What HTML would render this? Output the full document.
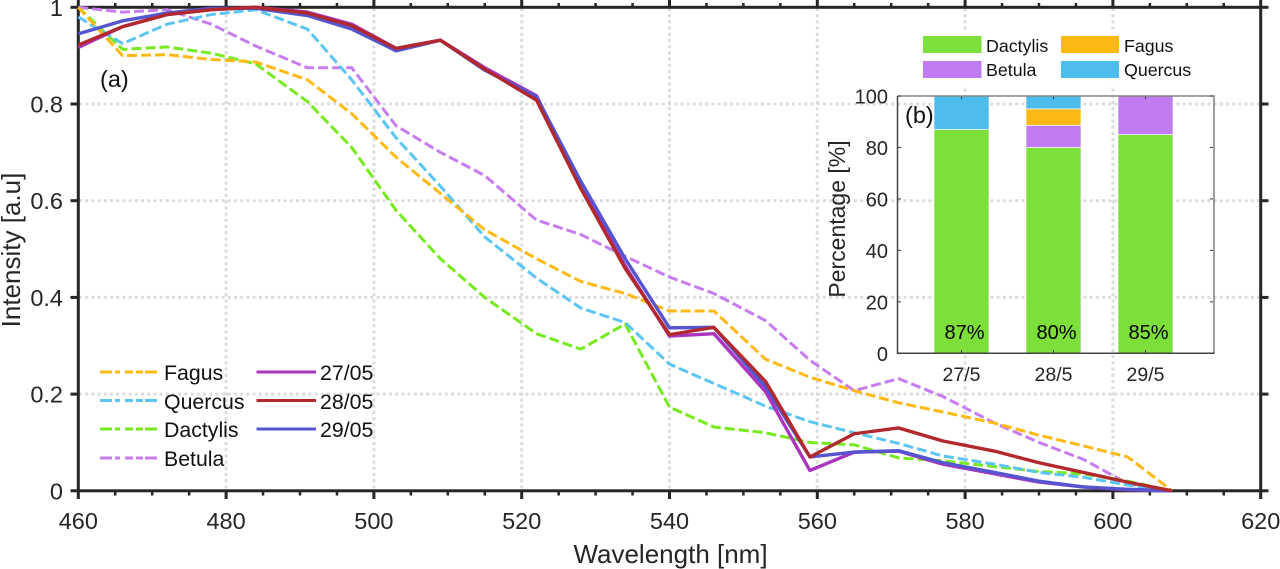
<!DOCTYPE html>
<html lang="en">
<head>
<meta charset="utf-8">
<title>Intensity by wavelength</title>
<style>
html,body{margin:0;padding:0;background:#fff;width:1280px;height:569px;overflow:hidden}
svg{display:block;font-family:"Liberation Sans",Arial,sans-serif}
</style>
</head>
<body>
<svg id="chart" xmlns="http://www.w3.org/2000/svg" width="1280" height="569" viewBox="0 0 1280 569">
  <g id="grid"></g>
  <g id="axes"></g>
  <g id="series"></g>
  <g id="inset"></g>

  <text x="670.5" y="563" font-size="26" text-anchor="middle" fill="#262626">Wavelength [nm]</text>
  <text transform="translate(20,250) rotate(-90)" font-size="26" text-anchor="middle" fill="#262626">Intensity [a.u]</text>
  <text x="100" y="87" font-size="23.5" fill="#111">(a)</text>
  <text x="905" y="123" font-size="23.5" fill="#111">(b)</text>
  <text transform="translate(845,219) rotate(-90)" font-size="23" text-anchor="middle" fill="#262626">Percentage [%]</text>

  <g font-size="21.3" fill="#111">
    <g>
      <line x1="100" x2="157" y1="372" y2="372" stroke="#ffb914" stroke-width="3" stroke-dasharray="12 3 5 5 8 3 7 2 12 100"/>
      <text x="164" y="380">Fagus</text>
    </g>
    <g>
      <line x1="100" x2="157" y1="400.5" y2="400.5" stroke="#5cc5f2" stroke-width="3" stroke-dasharray="12 3 5 5 8 3 7 2 12 100"/>
      <text x="164" y="409">Quercus</text>
    </g>
    <g>
      <line x1="100" x2="157" y1="429" y2="429" stroke="#76ea1e" stroke-width="3" stroke-dasharray="12 3 5 5 8 3 7 2 12 100"/>
      <text x="164" y="437">Dactylis</text>
    </g>
    <g>
      <line x1="100" x2="157" y1="458" y2="458" stroke="#c77df0" stroke-width="3" stroke-dasharray="12 3 5 5 8 3 7 2 12 100"/>
      <text x="164" y="466">Betula</text>
    </g>
    <g>
      <line x1="256.5" x2="316" y1="372" y2="372" stroke="#aa36c0" stroke-width="3"/>
      <text x="320" y="380">27/05</text>
    </g>
    <g>
      <line x1="256.5" x2="316" y1="400.5" y2="400.5" stroke="#b1282d" stroke-width="3"/>
      <text x="320" y="409">28/05</text>
    </g>
    <g>
      <line x1="256.5" x2="316" y1="429" y2="429" stroke="#5555cf" stroke-width="3"/>
      <text x="320" y="437">29/05</text>
    </g>
  </g>

  <g font-size="17.8" fill="#111">
    <rect x="915" y="31" width="282" height="54" fill="#fff"/>
    <g>
      <rect x="923" y="36" width="58.5" height="17" fill="#7ddf3a"/>
      <text x="986" y="52">Dactylis</text>
    </g>
    <g>
      <rect x="1061" y="36" width="58" height="17" fill="#fdb913"/>
      <text x="1124" y="52">Fagus</text>
    </g>
    <g>
      <rect x="923" y="61" width="58.5" height="17" fill="#c07bf0"/>
      <text x="986" y="76">Betula</text>
    </g>
    <g>
      <rect x="1061" y="61" width="58" height="17" fill="#4dbdee"/>
      <text x="1124" y="76">Quercus</text>
    </g>
  </g>
</svg>

<script>
// ---- Main chart data ----
const wavelengths = [460,466,472,478,484,491,497,503,509,515,522,528,534,540,546,553,559,565,571,577,584,590,596,602,608];
const fagus    = [1,.90,.902,.892,.887,.85,.78,.69,.615,.54,.48,.433,.408,.372,.372,.272,.235,.207,.182,.163,.14,.115,.093,.07,0];
const quercus  = [.98,.925,.965,.985,.995,.955,.85,.73,.63,.525,.44,.378,.348,.262,.222,.175,.143,.12,.098,.072,.055,.038,.028,.012,0];
const dactylis = [1,.913,.918,.905,.883,.805,.71,.58,.48,.40,.325,.293,.345,.173,.132,.12,.10,.095,.068,.062,.05,.04,.035,.02,0];
const betula   = [1,.99,.995,.965,.92,.875,.875,.755,.70,.652,.56,.53,.485,.442,.408,.352,.27,.207,.232,.195,.14,.10,.065,.015,0];
const day2705  = [.917,.96,.985,.995,1,.99,.965,.915,.932,.875,.817,.63,.465,.32,.325,.205,.042,.08,.082,.055,.035,.018,.008,.002,0];
const day2805  = [.922,.96,.985,.995,1,.988,.962,.915,.932,.872,.808,.625,.46,.323,.338,.226,.07,.118,.13,.103,.082,.058,.038,.018,0];
const day2905  = [.945,.972,.988,.998,.998,.983,.955,.91,.932,.87,.815,.64,.48,.337,.338,.215,.07,.08,.083,.058,.038,.02,.008,.003,0];
const xMajorTicks = [460,480,500,520,540,560,580,600,620];
const xMinorTicks = [465,470,475,485,490,495,505,510,515,525,530,535,545,550,555,565,570,575,585,590,595,605,610,615];
const yTicks = [0,0.2,0.4,0.6,0.8,1];

// ---- Inset chart data ----
const barCategories = ['27/5','28/5','29/5'];
const barDactylis = [87,80,85];
const barBetula   = [0,8.6,15];
const barFagus    = [0,6.4,0];
const barQuercus  = [13,5,0];
const barPercentLabels = ['87%','80%','85%'];
const insetYTicks = [0,20,40,60,80,100];

// ---- Axis functions ----
const xScale = function (v) { return 78.3 + (v - 460) * (1260.7 - 78.3) / 160; };
const yScale = function (v) { return 490.8 - v * 483.5; };
const insetX = function (i) { return 961.5 + i * 92; };
const insetY = function (v) { return 353.3 - v * 2.573; };

const NS = 'http://www.w3.org/2000/svg';
function make(tag, parent, attrs, content) {
  const el = document.createElementNS(NS, tag);
  for (const k in attrs) el.setAttribute(k, attrs[k]);
  if (content !== undefined) el.textContent = content;
  parent.appendChild(el);
  return el;
}

const gridG = document.getElementById('grid');
const axesG = document.getElementById('axes');
const seriesG = document.getElementById('series');
const insetG = document.getElementById('inset');
const INK = '#262626';
const GRIDC = '#dcdcdc';

// Grid
xMajorTicks.slice(1, -1).forEach(function (t) {
  const el = make('line', gridG, {x1: xScale(t), x2: xScale(t), y1: 8, y2: 490, stroke: GRIDC, 'stroke-width': 3, 'stroke-dasharray': '3 3.2'});
  
  
});
yTicks.slice(1, -1).forEach(function (t) {
  const el = make('line', gridG, {x1: 79, x2: 1260, y1: yScale(t), y2: yScale(t), stroke: GRIDC, 'stroke-width': 3, 'stroke-dasharray': '3 3.2'});
  
  
});

// Axes box
const box = make('rect', axesG, {x: 78.3, y: 7.3, width: 1182.4, height: 483.5, fill: 'none', stroke: INK, 'stroke-width': 3});



// X ticks and labels
xMajorTicks.forEach(function (t) {
  const x = xScale(t);
  const b = make('line', axesG, {x1: x, x2: x, y1: 491, y2: 499, stroke: INK, 'stroke-width': 3});
  
  
  const u = make('line', axesG, {x1: x, x2: x, y1: 7, y2: 0, stroke: INK, 'stroke-width': 3});
  
  
  const lab = make('text', axesG, {x: x, y: 529, 'font-size': 23.5, 'text-anchor': 'middle', fill: INK}, String(t));
  
  
});
xMinorTicks.forEach(function (t) {
  const x = xScale(t);
  const b = make('line', axesG, {x1: x, x2: x, y1: 491, y2: 495.5, stroke: INK, 'stroke-width': 2.5});
  
  
  const u = make('line', axesG, {x1: x, x2: x, y1: 7, y2: 3, stroke: INK, 'stroke-width': 2.5});
  
  
});

// Y ticks and labels
yTicks.forEach(function (t) {
  const y = yScale(t);
  const l = make('line', axesG, {x1: 70.5, x2: 78, y1: y, y2: y, stroke: INK, 'stroke-width': 3});
  
  
  const r = make('line', axesG, {x1: 1261, x2: 1268.5, y1: y, y2: y, stroke: INK, 'stroke-width': 3});
  
  
  const lab = make('text', axesG, {x: 63, y: y + 8.5, 'font-size': 23.5, 'text-anchor': 'end', fill: INK}, String(t));
  
  
});

// Series
function drawSeries(values, color, width, dash, name) {
  const pts = values.map(function (v, i) { return xScale(wavelengths[i]).toFixed(2) + ',' + yScale(v).toFixed(2); }).join(' ');
  const attrs = {points: pts, fill: 'none', stroke: color, 'stroke-width': width, 'stroke-linejoin': 'round'};
  if (dash) attrs['stroke-dasharray'] = dash;
  const el = make('polyline', seriesG, attrs);
  
  
}
drawSeries(betula, '#c77df0', 3, '10 4', 'series-betula');
drawSeries(dactylis, '#76ea1e', 3, '10 4', 'series-dactylis');
drawSeries(quercus, '#5cc5f2', 3, '10 4', 'series-quercus');
drawSeries(fagus, '#ffb914', 3, '10 4', 'series-fagus');
drawSeries(day2705, '#aa36c0', 3.4, null, 'series-27-05');
drawSeries(day2905, '#5555cf', 3.4, null, 'series-29-05');
drawSeries(day2805, '#b1282d', 3.4, null, 'series-28-05');

// Inset bars
const stackColors = ['#7ddf3a', '#c07bf0', '#fdb913', '#4dbdee'];
const stacks = [barDactylis, barBetula, barFagus, barQuercus];
barCategories.forEach(function (cat, i) {
  let base = 0;
  stacks.forEach(function (arr, s) {
    const v = arr[i];
    if (v > 0) {
      const yTop = insetY(base + v);
      const rect = make('rect', insetG, {x: insetX(i) - 27.5, y: yTop, width: 55, height: insetY(base) - yTop, fill: stackColors[s], stroke: '#fff', 'stroke-width': 0.8, 'stroke-opacity': 0.8});
      
      
    }
    base += v;
  });
  const catLabel = make('text', insetG, {x: insetX(i), y: 381, 'font-size': 19.5, 'text-anchor': 'middle', fill: INK}, cat);
  
  
  const pct = make('text', insetG, {x: insetX(i) + 3, y: 339, 'font-size': 20, 'text-anchor': 'middle', fill: '#000'}, barPercentLabels[i]);
  
  
  const tb = make('line', insetG, {x1: insetX(i), x2: insetX(i), y1: 353, y2: 350, stroke: '#333', 'stroke-width': 1});
  
  
  const tt = make('line', insetG, {x1: insetX(i), x2: insetX(i), y1: 96, y2: 99, stroke: '#333', 'stroke-width': 1});
  
  
});

// Inset axes
const insetTop = make('line', insetG, {x1: 897.5, x2: 1214, y1: 96, y2: 96, stroke: '#858585', 'stroke-width': 1.6});


const insetRight = make('line', insetG, {x1: 1214, x2: 1214, y1: 95.2, y2: 354, stroke: '#858585', 'stroke-width': 1.6});


const insetLeft = make('line', insetG, {x1: 897.5, x2: 897.5, y1: 96, y2: 354, stroke: '#444', 'stroke-width': 1.5});


const insetBottom = make('line', insetG, {x1: 897, x2: 1214.5, y1: 353.3, y2: 353.3, stroke: '#444', 'stroke-width': 1.5});


insetYTicks.forEach(function (t) {
  const y = insetY(t);
  const l = make('line', insetG, {x1: 898, x2: 901, y1: y, y2: y, stroke: '#333', 'stroke-width': 1});
  
  
  const r = make('line', insetG, {x1: 1213, x2: 1210, y1: y, y2: y, stroke: '#333', 'stroke-width': 1});
  
  
  const lab = make('text', insetG, {x: 888, y: y + 7.5, 'font-size': 20, 'text-anchor': 'end', fill: INK}, String(t));
  
  
});
</script>
</body>
</html>
